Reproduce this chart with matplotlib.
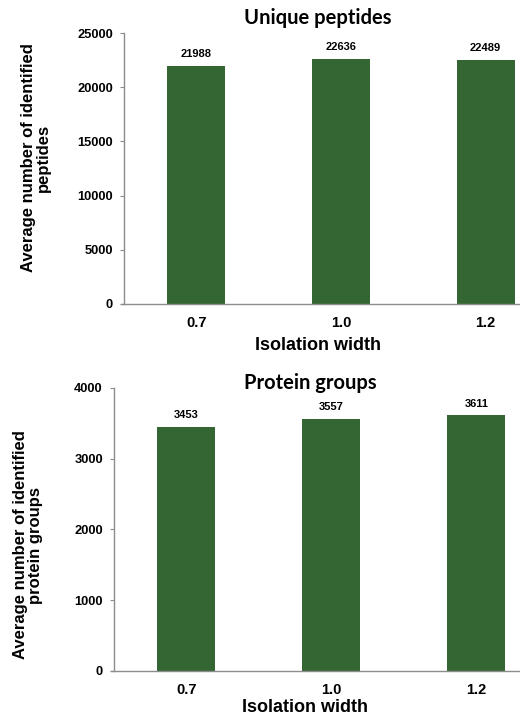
import matplotlib.pyplot as plt

widths = ['0.7', '1.0', '1.2']
peptides = [21988, 22636, 22489]
proteins = [3453, 3557, 3611]

bar_color = '#336633'
axis_color = '#8c8c8c'
num_font = 'Liberation Sans'
title_font = 'Lato'

fig = plt.figure(figsize=(5.2, 7.19), dpi=100)


def bar_panel(rect, values, ymax, step):
    ax = fig.add_axes(rect)
    x = range(len(values))
    ax.bar(x, values, width=0.4, color=bar_color)
    for xi, v in zip(x, values):
        ax.annotate(str(v), (xi, v), xytext=(0, 5), textcoords='offset points',
                    ha='center', va='bottom', fontsize=8, fontweight='bold',
                    family=num_font)
    ax.set_xlim(-0.5, 2.5)
    ax.set_ylim(0, ymax)
    ax.set_yticks(range(0, ymax + 1, step))
    ax.set_xticks(list(x))
    ax.set_xticklabels(widths)
    ax.tick_params(axis='x', length=0, pad=9)
    ax.tick_params(axis='y', length=3, color=axis_color, pad=5)
    for lab in ax.get_xticklabels():
        lab.set_fontsize(10.5)
    for lab in ax.get_yticklabels():
        lab.set_fontsize(9.3)
    for lab in ax.get_xticklabels() + ax.get_yticklabels():
        lab.set_fontweight('bold')
        lab.set_family(num_font)
    for side in ['top', 'right']:
        ax.spines[side].set_visible(False)
    for side in ['left', 'bottom']:
        ax.spines[side].set_color(axis_color)
        ax.spines[side].set_linewidth(1)
    ax.spines['bottom'].set_bounds(-0.52, 2.5)
    return ax


bar_panel([0.2385, 0.5772, 0.8346, 0.3769], peptides, 25000, 5000)
bar_panel([0.2192, 0.0668, 0.8365, 0.3936], proteins, 4000, 1000)

# titles, axis labels
fig.text(0.6115, 0.975, 'Unique peptides', ha='center', va='center',
         fontsize=14.5, fontweight='bold', family=title_font)
fig.text(0.596, 0.4673, 'Protein groups', ha='center', va='center',
         fontsize=14.5, fontweight='bold', family=title_font)
fig.text(0.6115, 1 - 345 / 719, 'Isolation width', ha='center', va='center',
         fontsize=13, fontweight='bold', family=num_font)
fig.text(0.587, 1 - 707 / 719, 'Isolation width', ha='center', va='center',
         fontsize=13, fontweight='bold', family=num_font)
fig.text(0.069, 1 - 158 / 719, 'Average number of identified\npeptides',
         ha='center', va='center', rotation=90, multialignment='center',
         fontsize=12, fontweight='bold', family=num_font, linespacing=1.0)
fig.text(0.054, 1 - 545 / 719, 'Average number of identified\nprotein groups',
         ha='center', va='center', rotation=90, multialignment='center',
         fontsize=12, fontweight='bold', family=num_font, linespacing=1.0)

fig.savefig('out.png', dpi=100)
